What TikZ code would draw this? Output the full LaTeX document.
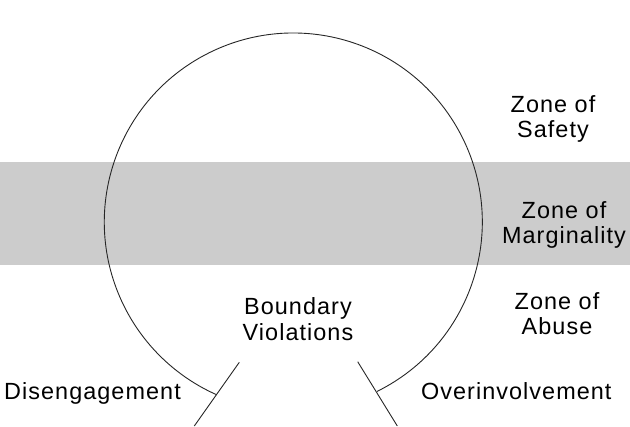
\documentclass[tikz,border=0pt]{standalone}
\usepackage{fontspec}
\setmainfont[LetterSpace=4.5]{Liberation Sans}
\definecolor{bandgray}{RGB}{204,204,204}
\tikzset{
  lbl/.style={anchor=base, align=center, inner sep=0pt, font=\fontsize{23.5}{25.3}\selectfont},
  ring/.style={draw=black!85, line width=0.9bp},
  tick/.style={draw=black!85, line width=0.9bp}
}
\begin{document}
\begin{tikzpicture}[x=1bp,y=1bp]
\useasboundingbox (0,0) rectangle (630,426);
% band
\fill[bandgray] (0,161) rectangle (630,263.7);
% circle with gap
\coordinate (c) at (293.3,204);
\draw[ring] ([shift={(-63.7:189)}]c) arc[start angle=-63.7, end angle=246.1, radius=189];
% crossing lines
\coordinate (l1) at (239.3,63.7);
\coordinate (l2) at (194.3,0);
\coordinate (r1) at (357.7,64.3);
\coordinate (r2) at (397.3,0);
\draw[tick] (l1) -- (l2);
\draw[tick] (r1) -- (r2);
% labels (base = baseline of last line)
\node[lbl] (safety) at (553,288.3) {Zone of\\Safety};
\node[lbl] (margin) at (564,182.7) {Zone of\\Marginality};
\node[lbl] (abuse) at (557,91.7) {Zone of\\Abuse};
\node[lbl] (bv) at (298,86) {Boundary\\Violations};
\node[lbl] (dis) at (92.5,26.7) {Disengagement};
\node[lbl] (over) at (516.3,26.7) {Overinvolvement};
\end{tikzpicture}
\end{document}
